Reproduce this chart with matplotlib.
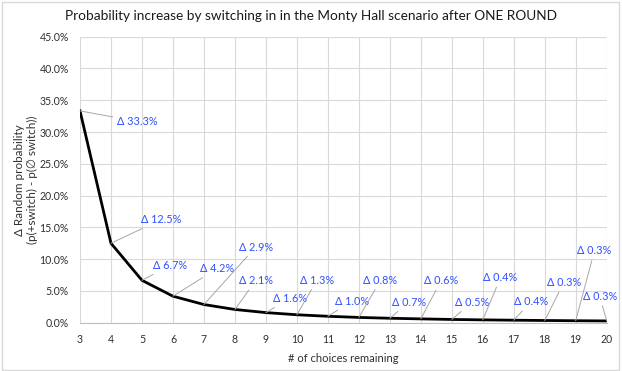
import matplotlib
matplotlib.use("Agg")
from matplotlib import pyplot as plt
from matplotlib.patches import Rectangle

plt.rcParams['font.family'] = ['Lato', 'DejaVu Sans']

# numero de escolhas restantes
choices = [3, 4, 5, 6, 7, 8, 9, 10, 11, 12, 13, 14, 15, 16, 17, 18, 19, 20]
# aumento de probabilidade em % (switch - stay)
delta = [33.33, 12.5, 6.67, 4.17, 2.86, 2.08, 1.59, 1.25, 1.01, 0.83, 0.70,
         0.60, 0.51, 0.446, 0.392, 0.347, 0.310, 0.278]

# onde fica cada rotulo (canto esquerdo do texto)
lab_x = [4.19, 4.96, 5.35, 6.87, 8.12, 8.12, 9.22, 10.1, 11.23, 12.15, 13.06,
         14.1, 15.1, 16.02, 17.0, 18.06, 19.05, 19.22]
lab_y = [31.66, 16.2, 9.0, 8.5, 11.9, 6.6, 3.8, 6.7, 3.4, 6.7, 3.2,
         6.6, 3.2, 7.1, 3.3, 6.3, 11.3, 4.2]

fig = plt.figure(figsize=(6.22, 3.71), dpi=100)
ax = fig.add_axes([80/622, 1-322.7/371, (606.7-80)/622, (322.7-36.7)/371])

ax.plot(choices, delta, color='black', lw=2.0, zorder=3)

for xv, yv, lx, ly in zip(choices, delta, lab_x, lab_y):
    txt = 'Δ ' + '%.1f%%' % (int(yv*10 + 0.5)/10)
    ax.annotate(txt, xy=(xv, yv), xytext=(lx, ly), ha='left', va='center',
                fontsize=7.8, color='#3050ff', zorder=4,
                arrowprops=dict(arrowstyle='-', color='#a6a6a6', lw=0.7,
                                shrinkA=1, shrinkB=0))

ax.set_xlim(3, 20)
ax.set_ylim(0, 45)
ax.set_xticks(choices)
ax.set_yticks([0, 5, 10, 15, 20, 25, 30, 35, 40, 45])
ax.set_yticklabels(['%.1f%%' % v for v in ax.get_yticks()])
ax.grid(color='#d9d9d9', lw=0.8)
ax.set_axisbelow(True)
for s in ['top', 'right', 'left']:
    ax.spines[s].set_visible(False)
ax.spines['bottom'].set_color('#bfbfbf')
ax.tick_params(length=0, labelsize=7.6, colors='#303030', pad=8)

ax.set_xlabel('# of choices remaining', fontsize=8, color='#303030')
ax.xaxis.set_label_coords(0.5, -0.106)
ax.set_ylabel('Δ Random probability\n(p(+switch) - p(∅ switch))', fontsize=8.4,
              color='#303030', va='center')
ax.yaxis.set_label_coords(-0.1025, 0.5)
fig.text(311/622, 1-16/371, 'Probability increase by switching in in the Monty Hall scenario after ONE ROUND',
         ha='center', va='center', fontsize=9.8, color='#1a1a1a')

fig.patches.append(Rectangle((0.003, 0.004), 0.992, 0.99, transform=fig.transFigure,
                             fill=False, edgecolor='#d9d9d9', lw=1))

plt.savefig('out.png', dpi=100)
